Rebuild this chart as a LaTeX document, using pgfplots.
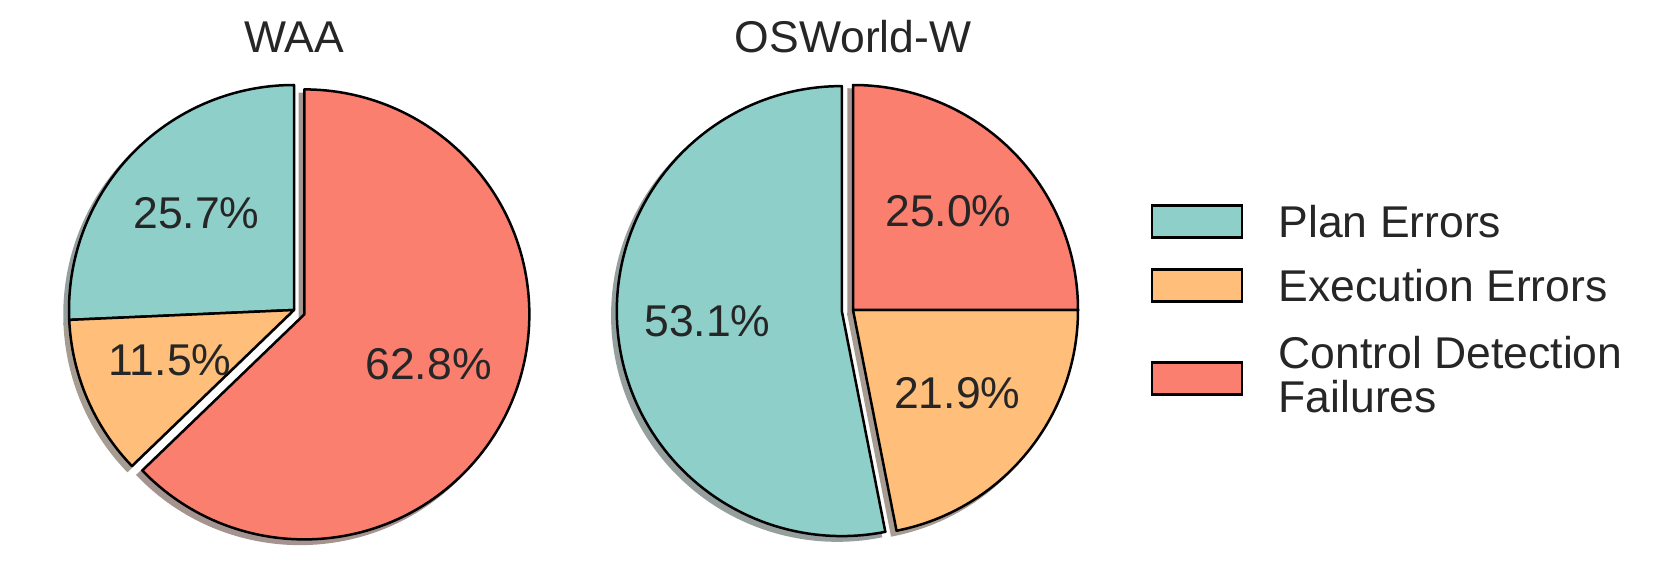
\documentclass[border=0pt]{standalone}
\usepackage{fontspec}
\setmainfont{Liberation Sans}
\usepackage{pgfplots}
\pgfplotsset{compat=1.18}

\definecolor{planc}{HTML}{8ECFC9}
\definecolor{execc}{HTML}{FFBE7A}
\definecolor{ctrlc}{HTML}{FA7F6F}
% matplotlib shadow: 0.3 x face colour at alpha 0.5 over white
\definecolor{plans}{RGB}{149,159,158}
\definecolor{execs}{RGB}{166,156,146}
\definecolor{ctrls}{RGB}{165,147,144}
\definecolor{txt}{HTML}{262626}

\newcommand{\facecol}[1]{\ifcase#1\or planc\or execc\or ctrlc\fi}
\newcommand{\shadecol}[1]{\ifcase#1\or plans\or execs\or ctrls\fi}

% radius 225px = 67.5pt, explode 0.05 r, shadow offset 0.02 r, labels at 0.6 r
\def\pierad{67.5}
\def\pieexp{3.375}
\def\pielab{40.5}

% #1,#2 centre (axis units), #3 exploded slice, #4 percentages
\newcommand{\pie}[4]{%
  \gdef\angA{90}%
  \foreach \v [count=\i] in {#4} {%
    \pgfmathsetmacro{\angB}{\angA+3.6*\v}%
    \pgfmathsetmacro{\angM}{(\angA+\angB)/2}%
    \pgfmathsetmacro{\ex}{\i==#3 ? \pieexp : 0}%
    \edef\tmp{\noexpand\filldraw[fill=\shadecol{\i}, draw=\shadecol{\i}, line width=0.75pt,
      shift={(\angM:\ex pt)}, shift={(-1.35pt,-1.35pt)}]
      (axis cs:#1,#2) -- ++(\angA:\pierad pt)
      arc[start angle=\angA, end angle=\angB, radius=\pierad pt] -- cycle;}%
    \tmp
    \global\let\angA\angB
  }%
  \gdef\angA{90}%
  \foreach \v [count=\i] in {#4} {%
    \pgfmathsetmacro{\angB}{\angA+3.6*\v}%
    \pgfmathsetmacro{\angM}{(\angA+\angB)/2}%
    \pgfmathsetmacro{\ex}{\i==#3 ? \pieexp : 0}%
    \edef\tmp{\noexpand\filldraw[fill=\facecol{\i}, draw=black, line width=0.75pt, line join=round,
      shift={(\angM:\ex pt)}]
      (axis cs:#1,#2) -- ++(\angA:\pierad pt)
      arc[start angle=\angA, end angle=\angB, radius=\pierad pt] -- cycle;}%
    \tmp
    \edef\tmp{\noexpand\node[text=txt, shift={(\angM:\ex pt)}, shift={(\angM:\pielab pt)},
      yshift=0.9pt] at (axis cs:#1,#2) {\v\noexpand\%};}%
    \tmp
    \global\let\angA\angB
  }%
}

\begin{document}
\fontsize{13.35}{13.4}\selectfont
\begin{tikzpicture}
\begin{axis}[
  x=0.3pt, y=0.3pt,
  xmin=0, xmax=1660, ymin=0, ymax=581,
  hide axis, clip=false,
]
\path (axis cs:0,0) rectangle (axis cs:1660,581);

% WAA
\pie{294}{271}{3}{25.7,11.5,62.8}
\node[text=txt, anchor=base] at (axis cs:294,528) {WAA};

% OSWorld-W
\pie{853}{271}{1}{53.1,21.9,25.0}
\node[text=txt, anchor=base] at (axis cs:853,528) {OSWorld-W};

% legend
\draw[fill=planc, line width=0.75pt] (axis cs:1152,343.5) rectangle (axis cs:1242,375.5);
\node[text=txt, anchor=west, inner sep=0pt] at (axis cs:1278,359.5) {Plan Errors};
\draw[fill=execc, line width=0.75pt] (axis cs:1152,279.5) rectangle (axis cs:1242,311.5);
\node[text=txt, anchor=west, inner sep=0pt] at (axis cs:1278,295.5) {Execution Errors};
\draw[fill=ctrlc, line width=0.75pt] (axis cs:1152,186.5) rectangle (axis cs:1242,218.5);
\node[text=txt, anchor=west, inner sep=0pt, align=left] at (axis cs:1278,206.5) {Control Detection\\Failures};
\end{axis}
\end{tikzpicture}
\end{document}
